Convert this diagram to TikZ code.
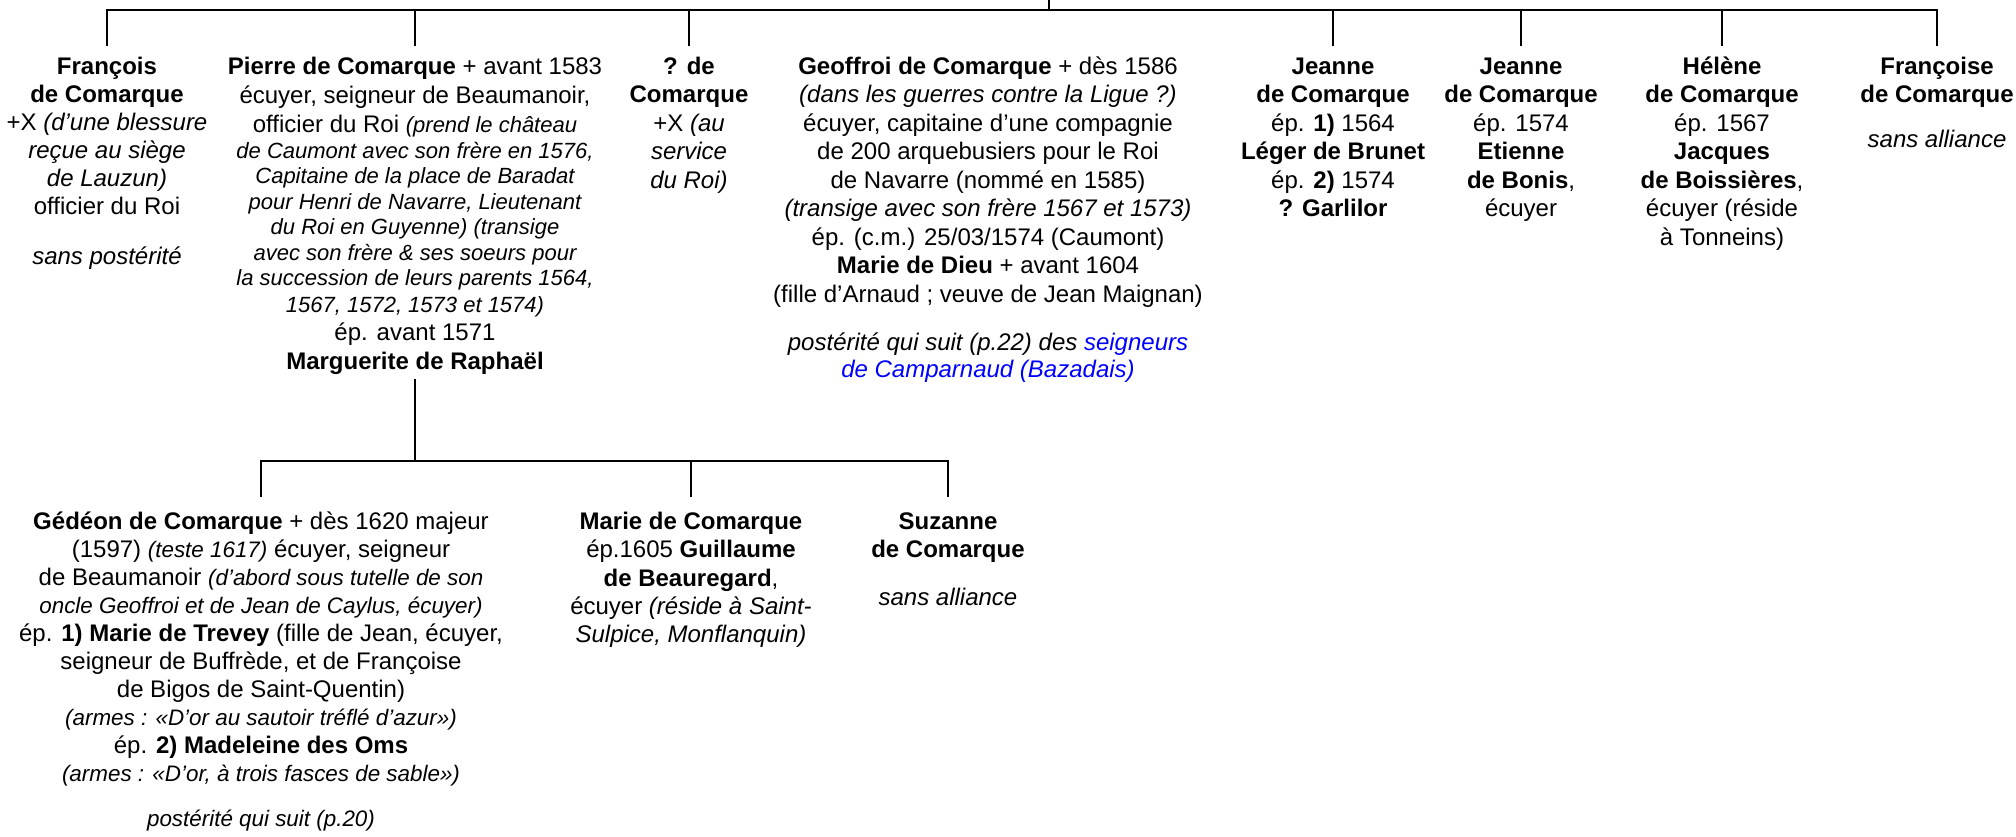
\documentclass[tikz,border=0pt]{standalone}
\usepackage{fontspec}
\setmainfont{Liberation Sans}
\newcommand{\itsz}{12}
\newcommand{\ital}[1]{{\fontsize{\itsz}{14}\selectfont\itshape #1}}
\newcommand{\fst}{\rule{0pt}{10pt}}
\begin{document}
\begin{tikzpicture}[x=0.5pt,y=-0.5pt,
  person/.style={align=center,inner sep=0pt,anchor=north,font=\fontsize{12}{14.25}\selectfont},
  link/.style={line width=1.4pt}]
\useasboundingbox (0,0) rectangle (2016,836);
\coordinate (root) at (1049,0);
\coordinate (bar1) at (0,10);
\coordinate (bar2) at (0,461);

% generation 1
\node[person,font=\fontsize{12}{14}\selectfont] (francois) at (107,54) {\fst\textbf{François}\\
\textbf{de Comarque}\\
+X \ital{(d’une blessure}\\
\ital{reçue au siège}\\
\ital{de Lauzun)}\\
officier du Roi\\[11pt]
\ital{sans postérité}};

\node[person,font=\fontsize{12}{12.75}\selectfont\def\itsz{11}] (pierre) at (415,54) {\fst\textbf{Pierre de Comarque} + avant 1583\\[2pt]
écuyer, seigneur de Beaumanoir,\\[1.75pt]
officier du Roi \ital{(prend le château}\\
\ital{de Caumont avec son frère en 1576,}\\
\ital{Capitaine de la place de Baradat}\\
\ital{pour Henri de Navarre, Lieutenant}\\
\ital{du Roi en Guyenne) (transige}\\
\ital{avec son frère \& ses soeurs pour}\\
\ital{la succession de leurs parents 1564,}\\[0.75pt]
\ital{1567, 1572, 1573 et 1574)}\\[1.25pt]
ép. avant 1571\\[1.75pt]
\textbf{Marguerite de Raphaël}};

\node[person] (inconnu) at (689,54) {\fst\textbf{? de}\\
\textbf{Comarque}\\
+X \ital{(au}\\
\ital{service}\\
\ital{du Roi)}};

\node[person] (geoffroi) at (988,54) {\fst\textbf{Geoffroi de Comarque} + dès 1586\\
\ital{(dans les guerres contre la Ligue ?)}\\
écuyer, capitaine d’une compagnie\\
de 200 arquebusiers pour le Roi\\
de Navarre (nommé en 1585)\\
\ital{(transige avec son frère 1567 et 1573)}\\
ép. (c.m.) 25/03/1574 (Caumont)\\
\textbf{Marie de Dieu} + avant 1604\\
(fille d’Arnaud ; veuve de Jean Maignan)\\[10pt]
\ital{postérité qui suit (p.22) des \textcolor{blue}{seigneurs}}\\[-1pt]
\ital{\textcolor{blue}{de Camparnaud (Bazadais)}}};

\node[person] (jeanneA) at (1333,54) {\fst\textbf{Jeanne}\\
\textbf{de Comarque}\\
ép. \textbf{1)} 1564\\
\textbf{Léger de Brunet}\\
ép. \textbf{2)} 1574\\
\textbf{? Garlilor}};

\node[person] (jeanneB) at (1521,54) {\fst\textbf{Jeanne}\\
\textbf{de Comarque}\\
ép. 1574\\
\textbf{Etienne}\\
\textbf{de Bonis},\\
écuyer};

\node[person] (helene) at (1722,54) {\fst\textbf{Hélène}\\
\textbf{de Comarque}\\
ép. 1567\\
\textbf{Jacques}\\
\textbf{de Boissières},\\
écuyer (réside\\
à Tonneins)};

\node[person] (francoise) at (1937,54) {\fst\textbf{Françoise}\\
\textbf{de Comarque}\\[8pt]
\ital{sans alliance}};

% generation 2
\node[person,font=\fontsize{12}{14}\selectfont\def\itsz{11.2}] (gedeon) at (261,509) {\fst\textbf{Gédéon de Comarque} + dès 1620 majeur\\
(1597) \ital{(teste 1617)} écuyer, seigneur\\
de Beaumanoir \ital{(d’abord sous tutelle de son}\\
\ital{oncle Geoffroi et de Jean de Caylus, écuyer)}\\
ép. \textbf{1) Marie de Trevey} (fille de Jean, écuyer,\\
seigneur de Buffrède, et de Françoise\\
de Bigos de Saint-Quentin)\\
\ital{(armes : «D’or au sautoir tréflé d’azur»)}\\
ép. \textbf{2) Madeleine des Oms}\\
\ital{(armes : «D’or, à trois fasces de sable»)}\\[8.5pt]
\ital{postérité qui suit (p.20)}};

\node[person,font=\fontsize{12}{14.15}\selectfont] (marie) at (691,509) {\fst\textbf{Marie de Comarque}\\
ép.1605 \textbf{Guillaume}\\
\textbf{de Beauregard},\\
écuyer \ital{(réside à Saint-}\\
\ital{Sulpice, Monflanquin)}};

\node[person,font=\fontsize{12}{14}\selectfont] (suzanne) at (948,509) {\fst\textbf{Suzanne}\\
\textbf{de Comarque}\\[10pt]
\ital{sans alliance}};

% connectors generation 1
\draw[link] (root) -- (root |- bar1);
\draw[link] ([yshift=4pt]francois.north) -- (francois.north |- bar1) -- (francoise.north |- bar1) -- ([yshift=4pt]francoise.north);
\foreach \n in {pierre,inconnu,jeanneA,jeanneB,helene}
  \draw[link] (\n.north |- bar1) -- ([yshift=4pt]\n.north);

% connectors generation 2
\draw[link] ([yshift=-2pt]pierre.south) -- (pierre.south |- bar2);
\draw[link] ([yshift=6pt]gedeon.north) -- (gedeon.north |- bar2) -- (suzanne.north |- bar2) -- ([yshift=6pt]suzanne.north);
\draw[link] (marie.north |- bar2) -- ([yshift=6pt]marie.north);
\end{tikzpicture}
\end{document}
